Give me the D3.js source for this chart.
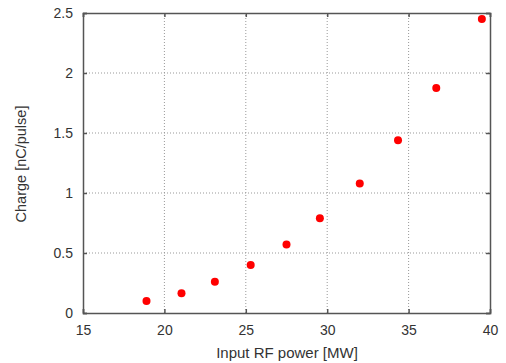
<!DOCTYPE html>
<html><head><meta charset="utf-8">
<script src="https://cdn.jsdelivr.net/npm/d3@7"></script>
<style>body{margin:0;background:#fff}svg{display:block}</style>
</head><body>
<script>
const powerMW = [18.9, 21.05, 23.1, 25.3, 27.5, 29.55, 32.0, 34.35, 36.7, 39.5];
const chargeNC = [0.10, 0.165, 0.26, 0.40, 0.57, 0.79, 1.08, 1.44, 1.875, 2.45];
const xTicks = [15, 20, 25, 30, 35, 40];
const yTicks = [0, 0.5, 1, 1.5, 2, 2.5];
const xTitle = "Input RF power [MW]";
const yTitle = "Charge [nC/pulse]";

const W = 506, H = 363;
const m = {left: 83, right: 16, top: 13, bottom: 50};
const svg = d3.select("body").append("svg").attr("width", W).attr("height", H);
const x = d3.scaleLinear().domain([15, 40]).range([m.left, W - m.right]);
const y = d3.scaleLinear().domain([0, 2.5]).range([H - m.bottom, m.top]);
const font = "Liberation Sans, Arial, sans-serif";
const txt = "#333";

// grid
const g = svg.append("g");
g.selectAll(".gx").data(xTicks.slice(1, -1)).join("line")
  .attr("x1", d => x(d)).attr("x2", d => x(d)).attr("y1", y(0)).attr("y2", y(2.5))
  .attr("stroke", "#999").attr("stroke-width", 1).attr("stroke-dasharray", "1,2");
g.selectAll(".gy").data(yTicks.slice(1, -1)).join("line")
  .attr("y1", d => y(d)).attr("y2", d => y(d)).attr("x1", x(15)).attr("x2", x(40))
  .attr("stroke", "#999").attr("stroke-width", 1).attr("stroke-dasharray", "1,2");

// axes
const xa = svg.append("g").attr("transform", `translate(0,${y(0)})`)
  .call(d3.axisBottom(x).tickValues(xTicks).tickSize(-4).tickPadding(12).tickFormat(d3.format("d")));
const xa2 = svg.append("g").attr("transform", `translate(0,${y(2.5)})`)
  .call(d3.axisTop(x).tickValues(xTicks).tickSize(-4).tickFormat(""));
const ya = svg.append("g").attr("transform", `translate(${x(15)},0)`)
  .call(d3.axisLeft(y).tickValues(yTicks).tickSize(-4).tickPadding(10).tickFormat(d => d3.format("")(d)));
const ya2 = svg.append("g").attr("transform", `translate(${x(40)},0)`)
  .call(d3.axisRight(y).tickValues(yTicks).tickSize(-4).tickFormat(""));
[xa, xa2, ya, ya2].forEach(a => {
  a.select(".domain").attr("stroke", "#555").attr("stroke-width", 1.5);
  a.selectAll(".tick line").attr("stroke", "#555").attr("stroke-width", 1.5);
  a.selectAll("text").attr("fill", txt).style("font-family", font).style("font-size", "14px");
});

// points
svg.append("g").selectAll("circle").data(powerMW).join("circle")
  .attr("cx", d => x(d)).attr("cy", (d, i) => y(chargeNC[i])).attr("r", 4)
  .attr("fill", "#ff0000");

// titles
svg.append("text").attr("x", 287).attr("y", 358)
  .attr("text-anchor", "middle").attr("fill", txt)
  .style("font-family", font).style("font-size", "15px").text(xTitle);
svg.append("text").attr("transform", `translate(26,${(y(0) + y(2.5)) / 2 + 1}) rotate(-90)`)
  .attr("text-anchor", "middle").attr("fill", txt)
  .style("font-family", font).style("font-size", "14.5px").text(yTitle);
</script>
</body></html>
